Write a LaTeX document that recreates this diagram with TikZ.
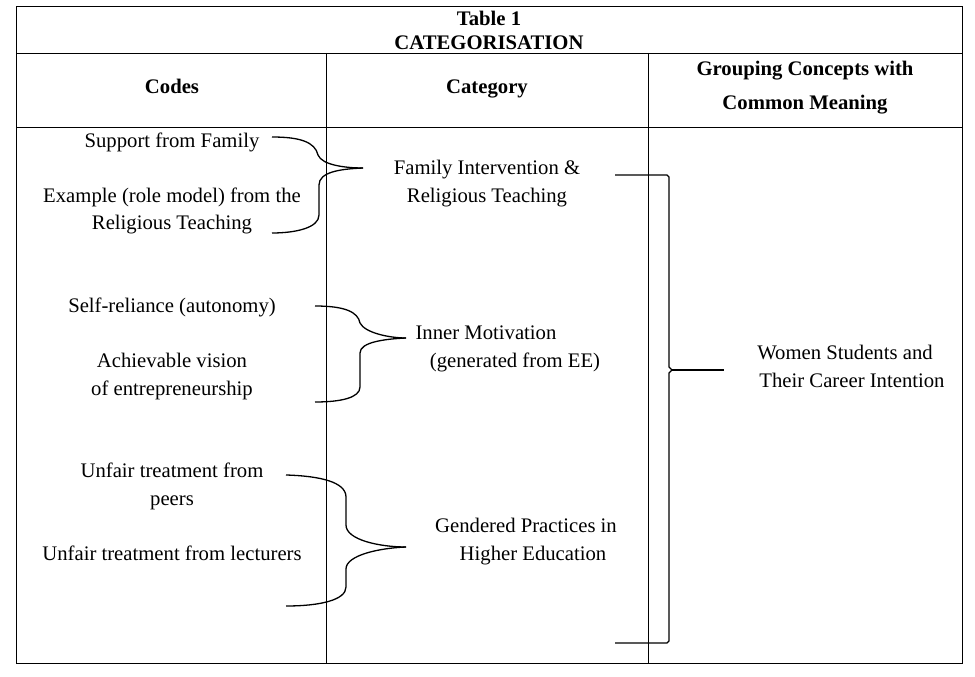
\documentclass[tikz,border=0pt]{standalone}
\usepackage{fontspec}
\setmainfont{Liberation Serif}
\begin{document}
\begin{tikzpicture}[x=1pt,y=-1pt,
  txt/.style={font=\fontsize{20.7}{24}\selectfont, inner sep=0pt, anchor=base},
  hdr/.style={font=\fontsize{20.7}{24}\selectfont\bfseries, inner sep=0pt, anchor=base},
  rule/.style={line width=0.9pt},
  brace/.style={line width=1.3pt}]
\useasboundingbox (0,0) rectangle (975,677);
% table frame
\coordinate (TL) at (16,6); \coordinate (BR) at (962,663);
\draw[rule] (TL) rectangle (BR);
\coordinate (h1l) at (16,53); \coordinate (h1r) at (962,53);
\coordinate (h2l) at (16,127); \coordinate (h2r) at (962,127);
\coordinate (v1t) at (326,53); \coordinate (v1b) at (326,663);
\coordinate (v2t) at (648,53); \coordinate (v2b) at (648,663);
\draw[rule] (h1l) -- (h1r);
\draw[rule] (h2l) -- (h2r);
\draw[rule] (v1t) -- (v1b);
\draw[rule] (v2t) -- (v2b);
% headings
\node[hdr] (t1) at (489,26) {Table 1};
\node[hdr] (t2) at (489,50) {CATEGORISATION};
\node[hdr] (hc) at (172,93) {Codes};
\node[hdr] (hk) at (487,93) {Category};
\node[hdr] (hg1) at (805,75) {Grouping Concepts with};
\node[hdr] (hg2) at (805,110) {Common Meaning};
% codes
\node[txt] (c1) at (172,147) {Support from Family};
\node[txt] (c2a) at (172,202) {Example (role model) from the};
\node[txt] (c2b) at (172,229) {Religious Teaching};
\node[txt] (c3) at (172,312) {Self-reliance (autonomy)};
\node[txt] (c4a) at (172,367) {Achievable vision};
\node[txt] (c4b) at (172,395) {of entrepreneurship};
\node[txt] (c5a) at (172,477) {Unfair treatment from};
\node[txt] (c5b) at (172,505) {peers};
\node[txt] (c6) at (172,560) {Unfair treatment from lecturers};
% categories
\node[txt] (k1a) at (487,174) {Family Intervention \&};
\node[txt] (k1b) at (487,202) {Religious Teaching};
\node[txt] (k2a) at (486,339) {Inner Motivation};
\node[txt] (k2b) at (515,367) {(generated from EE)};
\node[txt] (k3a) at (526,532) {Gendered Practices in};
\node[txt] (k3b) at (533,560) {Higher Education};
% grouping
\node[txt] (g1) at (845,359) {Women Students and};
\node[txt] (g2) at (852,387) {Their Career Intention};
% brace 1
\coordinate (b1t) at (272,137); \coordinate (b1c) at (363,168); \coordinate (b1b) at (272,233);
\draw[brace] (b1t) .. controls (300,137) and (315,142) .. (318,155)
  .. controls (322,165) and (345,168) .. (b1c);
\draw[brace] (b1c) .. controls (340,169) and (319,172) .. (319,185) -- (319,215)
  .. controls (319,228) and (295,233) .. (b1b);
% brace 2
\coordinate (b2t) at (315,306); \coordinate (b2c) at (406,338); \coordinate (b2b) at (315,402);
\draw[brace] (b2t) .. controls (345,306) and (358,312) .. (360,323)
  .. controls (365,333) and (390,338) .. (b2c);
\draw[brace] (b2c) .. controls (385,339) and (360,342) .. (360,353) -- (360,387)
  .. controls (360,398) and (340,402) .. (b2b);
% brace 3
\coordinate (b3t) at (286,475); \coordinate (b3c) at (406,547); \coordinate (b3b) at (286,606);
\draw[brace] (b3t) .. controls (320,476) and (346,482) .. (346,497) -- (346,525)
  .. controls (346,540) and (380,547) .. (b3c);
\draw[brace] (b3c) .. controls (380,548) and (346,555) .. (346,569) -- (346,587)
  .. controls (346,600) and (320,606) .. (b3b);
% big bracket
\coordinate (bt) at (615,175); \coordinate (bb) at (615,643);
\coordinate (bm) at (672,370); \coordinate (bx) at (724,370);
\draw[brace] (bt) -- (667,175) -- (669,177) -- (669,367) -- (bm) -- (669,373) -- (669,641) -- (667,643) -- (bb);
\draw[brace] (bm) -- (bx);
\end{tikzpicture}
\end{document}
